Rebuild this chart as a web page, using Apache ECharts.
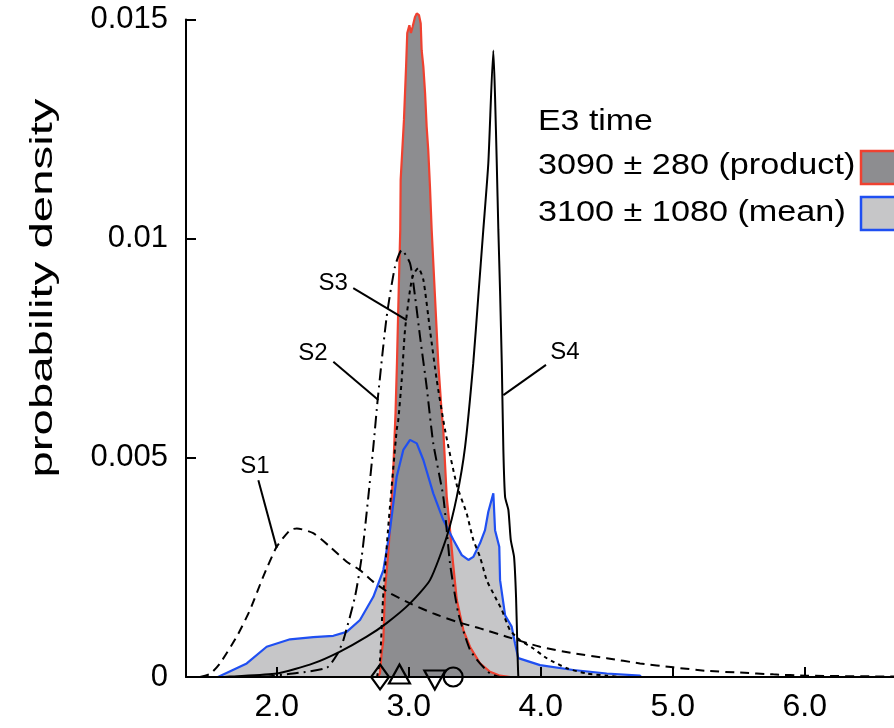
<!DOCTYPE html>
<html>
<head>
<meta charset="utf-8">
<script src="https://cdn.jsdelivr.net/npm/echarts@6/dist/echarts.min.js"></script>
<style>
html,body{margin:0;padding:0;background:#fff;}
#chart{width:894px;height:728px;}
</style>
</head>
<body>
<div id="chart"></div>
<script>
// ---------- data (x in thousand years, y = probability density) ----------
const xTickValues = [2, 3, 4, 5, 6];
const yTickValues = [0, 0.005, 0.01, 0.015];

const productCurve = [
  [2.767,0],[2.782,0.00008],[2.795,0.00054],[2.808,0.00084],[2.820,0.00198],[2.845,0.00283],
  [2.866,0.00374],[2.885,0.00488],[2.900,0.00602],[2.911,0.00716],[2.923,0.00867],[2.936,0.0102],
  [2.939,0.01134],[2.964,0.01271],[2.980,0.01392],[2.989,0.01469],[3.005,0.01487],[3.017,0.01469],
  [3.030,0.01484],[3.048,0.01506],[3.061,0.01514],[3.078,0.0151],[3.091,0.01491],[3.098,0.0143],
  [3.111,0.01392],[3.124,0.01332],[3.136,0.01255],[3.148,0.01202],[3.161,0.01119],[3.174,0.0102],
  [3.199,0.00868],[3.224,0.00716],[3.250,0.00602],[3.262,0.00564],[3.288,0.00411],[3.313,0.00335],
  [3.336,0.0026],[3.364,0.00176],[3.414,0.00107],[3.464,0.00069],[3.540,0.00031],[3.616,0.00012],
  [3.692,0.00003],[3.770,0]
];

const meanCurve = [
  [1.555,0],[1.773,0.00031],[1.924,0.00069],[2.101,0.00086],[2.277,0.00091],[2.429,0.00094],
  [2.530,0.00103],[2.631,0.0013],[2.732,0.00183],[2.808,0.00244],[2.858,0.00335],[2.909,0.00457],
  [2.959,0.00518],[3.010,0.00541],[3.061,0.00533],[3.111,0.00495],[3.186,0.00419],[3.262,0.00358],
  [3.338,0.00313],[3.402,0.00278],[3.452,0.00267],[3.489,0.00274],[3.540,0.00305],[3.578,0.00335],
  [3.603,0.00377],[3.641,0.00419],[3.654,0.00335],[3.686,0.00297],[3.692,0.00221],[3.730,0.00141],
  [3.780,0.00115],[3.805,0.00077],[3.830,0.00043],[3.995,0.00027],[4.247,0.00016],[4.500,0.00008],
  [4.752,0.00003],[4.760,0]
];

const s1Curve = [
  [1.419,0],[1.495,0.00007],[1.570,0.00031],[1.697,0.00092],[1.798,0.00153],[1.898,0.00229],
  [2.000,0.00297],[2.101,0.00335],[2.152,0.00339],[2.277,0.00328],[2.404,0.00297],[2.530,0.00263],
  [2.631,0.00244],[2.732,0.00217],[2.858,0.00191],[3.010,0.00168],[3.186,0.00145],[3.364,0.00126],
  [3.540,0.00111],[3.742,0.00092],[3.995,0.00069],[4.247,0.00054],[4.500,0.00043],[4.752,0.00031],
  [5.005,0.00022],[5.258,0.00014],[5.510,0.0001],[5.762,0.00006],[6.015,0.00003],[6.677,0.00001]
];

const s2Curve = [
  [1.896,0],[2.152,0.00009],[2.379,0.00021],[2.455,0.0005],[2.505,0.00084],[2.593,0.00183],
  [2.644,0.00274],[2.694,0.00411],[2.732,0.00525],[2.767,0.00639],[2.833,0.00822],[2.896,0.00936],
  [2.947,0.00974],[3.010,0.00944],[3.048,0.00868],[3.086,0.00776],[3.136,0.00662],[3.186,0.00533],
  [3.262,0.00411],[3.313,0.00259],[3.376,0.00145],[3.464,0.00062],[3.540,0.00031],[3.616,0.00008],
  [3.690,0]
];

const s3Curve = [
  [2.760,0],[2.783,0.0004],[2.805,0.00176],[2.843,0.00335],[2.909,0.00564],[2.921,0.00586],
  [2.947,0.00678],[2.972,0.00792],[3.010,0.00883],[3.033,0.00917],[3.073,0.00933],[3.111,0.00906],
  [3.161,0.00792],[3.212,0.00678],[3.275,0.00564],[3.364,0.00438],[3.439,0.00373],[3.489,0.00313],
  [3.540,0.00274],[3.591,0.00221],[3.654,0.00183],[3.705,0.00153],[3.767,0.00107],[3.843,0.00084],
  [3.944,0.00065],[4.045,0.00043],[4.197,0.0002],[4.348,0.00008],[4.500,0.00003],[4.600,0]
];

const s4Curve = [
  [1.600,0],[1.646,0.00001],[2.000,0.00008],[2.277,0.00031],[2.480,0.00058],[2.682,0.00092],
  [2.833,0.00123],[3.010,0.00168],[3.161,0.00221],[3.288,0.0032],[3.364,0.00411],[3.427,0.00525],
  [3.489,0.00716],[3.527,0.00868],[3.565,0.0102],[3.603,0.01172],[3.641,0.01429],[3.654,0.01324],
  [3.667,0.01172],[3.679,0.0102],[3.692,0.00880],[3.705,0.00716],[3.717,0.00518],[3.730,0.00411],
  [3.755,0.00381],[3.773,0.00313],[3.798,0.00274],[3.813,0.00183],[3.823,0.00069],[3.830,0.00003],
  [3.835,0]
];

// summary markers on the time axis
const markerTimes = [2.783, 2.93, 3.198, 3.337];
const markerShapes = ['diamond', 'triangle', 'triangleDown', 'circle'];

// curve annotations
const annotLabels = ['S1', 'S2', 'S3', 'S4'];
const annotTextPos = [[1.836, 0.0048], [2.275, 0.00739], [2.427, 0.00899], [4.184, 0.0074]];
const annotLeaders = [
  [[1.861, 0.00449], [2.000, 0.00294]],
  [[2.429, 0.00719], [2.770, 0.00632]],
  [[2.580, 0.00887], [2.985, 0.00814]],
  [[4.040, 0.00712], [3.717, 0.00643]]
];

// legend text
const legendTitle = 'E3 time';
const legendEntries = ['3090 ± 280 (product)', '3100 ± 1080 (mean)'];
const yAxisTitle = 'probability density';

// ---------- chart ----------
const FONT = '"Liberation Sans", Arial, Helvetica, sans-serif';
const DARK = '#8d8d90', LIGHT = '#c6c6c8', RED = '#ef4130', BLUE = '#1f4ff2';

const chart = echarts.init(document.getElementById('chart'), null, {renderer: 'canvas'});

const blackLine = (name, data, type, z) => ({
  name, type: 'line', data, showSymbol: false, symbol: 'none', smooth: 0.2, z, clip: false,
  lineStyle: {color: '#000', width: 2, type}, silent: true, animation: false
});

const markerData = markerTimes.map((t, i) => {
  const s = markerShapes[i];
  const item = {value: [t, 0]};
  if (s === 'diamond') { item.symbol = 'diamond'; item.symbolSize = [18, 25]; }
  else if (s === 'triangle') { item.symbol = 'triangle'; item.symbolSize = [21, 19]; item.symbolOffset = [0, -3]; }
  else if (s === 'triangleDown') { item.symbol = 'triangle'; item.symbolRotate = 180; item.symbolSize = [21, 19]; item.symbolOffset = [0, 3]; }
  else { item.symbol = 'circle'; item.symbolSize = 19; }
  return item;
});

const option = {
  backgroundColor: '#fff',
  animation: false,
  grid: {left: 186, right: 0, top: 19.5, bottom: 51, containLabel: false, outerBoundsMode: 'none'},
  xAxis: {
    type: 'value', min: 1.313, max: 6.676,
    splitLine: {show: false},
    axisLine: {show: true, onZero: false, lineStyle: {color: '#000', width: 2}},
    axisTick: {show: true, inside: true, length: 10, lineStyle: {color: '#000', width: 2}, customValues: xTickValues},
    axisLabel: {show: true, customValues: xTickValues, formatter: v => v.toFixed(1), fontSize: 32, color: '#000', fontFamily: FONT, margin: 14},
    z: 10
  },
  yAxis: {
    type: 'value', min: 0, max: 0.015, interval: 0.005,
    splitLine: {show: false},
    axisLine: {show: true, lineStyle: {color: '#000', width: 2}},
    axisTick: {show: true, inside: true, length: 10, lineStyle: {color: '#000', width: 2}},
    axisLabel: {fontSize: 31, color: '#000', fontFamily: FONT, margin: 18,
      formatter: v => (yTickValues.includes(v) ? String(v) : '')},
    z: 10
  },
  series: [
    {name: 'mean area', type: 'line', data: meanCurve, showSymbol: false, symbol: 'none', z: 1, clip: false,
      lineStyle: {width: 0}, areaStyle: {color: LIGHT, opacity: 1}, silent: true},
    {name: legendEntries[0], type: 'line', data: productCurve, showSymbol: false, symbol: 'none', z: 2, clip: false,
      lineStyle: {color: RED, width: 2.2}, areaStyle: {color: DARK, opacity: 1}, silent: true},
    {name: legendEntries[1], type: 'line', data: meanCurve, showSymbol: false, symbol: 'none', z: 3, clip: false,
      lineStyle: {color: BLUE, width: 2.2}, silent: true},
    blackLine('S1', s1Curve, [9, 6], 4),
    blackLine('S2', s2Curve, [12, 5, 2, 5], 4),
    blackLine('S3', s3Curve, [4, 4], 4),
    blackLine('S4', s4Curve, 'solid', 4),
    {name: 'leaders', type: 'lines', coordinateSystem: 'cartesian2d', z: 5, silent: true,
      lineStyle: {color: '#000', width: 2, opacity: 1, curveness: 0},
      data: annotLeaders.map(c => ({coords: c}))},
    {name: 'annotations', type: 'scatter', z: 6, silent: true, symbolSize: 1,
      itemStyle: {color: 'rgba(0,0,0,0)', opacity: 1},
      label: {show: true, position: 'inside', formatter: p => annotLabels[p.dataIndex],
        fontSize: 24, color: '#000', opacity: 1, fontFamily: FONT},
      data: annotTextPos},
    {name: 'markers', type: 'scatter', z: 12, clip: false, silent: true,
      itemStyle: {color: 'rgba(255,255,255,0)', borderColor: '#000', borderWidth: 2.2, opacity: 1},
      data: markerData}
  ],
  graphic: [
    {type: 'text', x: 43, y: 288, rotation: Math.PI / 2, scaleX: 1.48,
      style: {text: yAxisTitle, fontSize: 32, fontFamily: FONT, fill: '#000', textAlign: 'center', textVerticalAlign: 'middle'}},
    {type: 'text', x: 538, y: 122, scaleX: 1.13,
      style: {text: legendTitle, fontSize: 30, fontFamily: FONT, fill: '#000', textAlign: 'left', textVerticalAlign: 'middle'}},
    {type: 'text', x: 538, y: 166, scaleX: 1.14,
      style: {text: legendEntries[0], fontSize: 30, fontFamily: FONT, fill: '#000', textAlign: 'left', textVerticalAlign: 'middle'}},
    {type: 'text', x: 538, y: 213, scaleX: 1.14,
      style: {text: legendEntries[1], fontSize: 30, fontFamily: FONT, fill: '#000', textAlign: 'left', textVerticalAlign: 'middle'}},
    {type: 'rect', shape: {x: 861, y: 151, width: 45, height: 33},
      style: {fill: DARK, stroke: RED, lineWidth: 2.5}},
    {type: 'rect', shape: {x: 861, y: 197, width: 45, height: 33},
      style: {fill: LIGHT, stroke: BLUE, lineWidth: 2.5}}
  ]
};

chart.setOption(option);
</script>
</body>
</html>
